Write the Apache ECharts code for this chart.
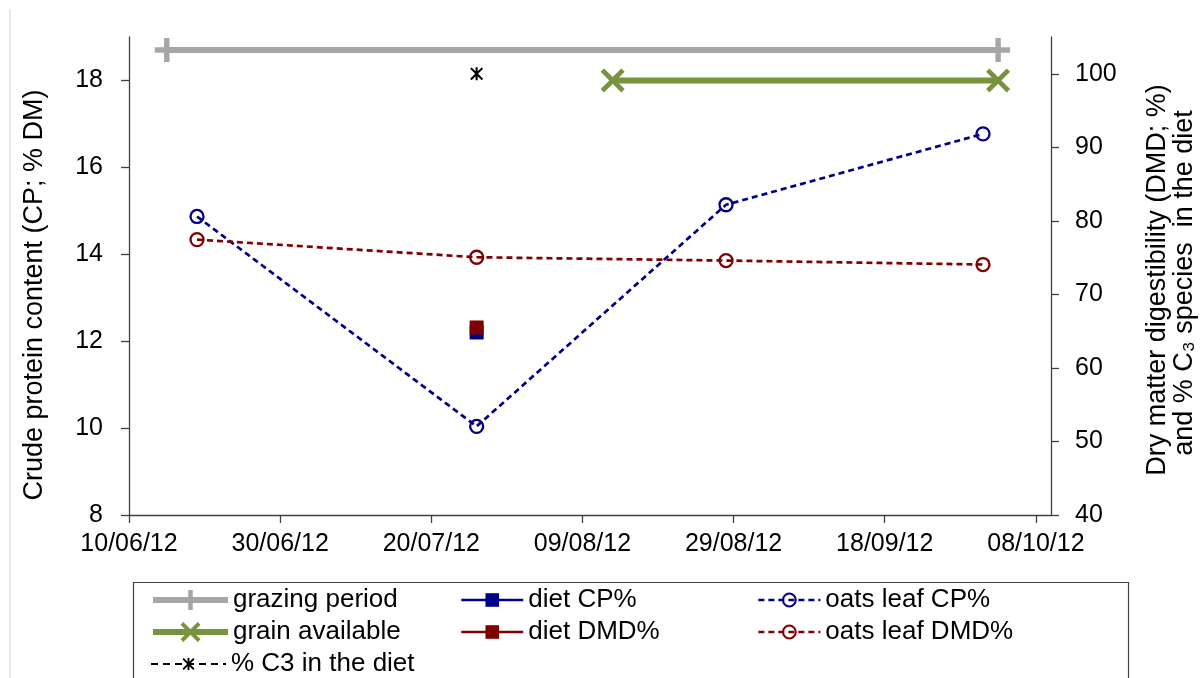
<!DOCTYPE html>
<html>
<head>
<meta charset="utf-8">
<script src="https://cdn.jsdelivr.net/npm/echarts@6/dist/echarts.min.js"></script>
<style>
html,body{margin:0;padding:0;background:#fff;}
#chart{width:1200px;height:678px;}
</style>
</head>
<body>
<div id="chart"></div>
<script>
// ---- data ----
const axisStartDate = '2012-06-10';
const axisEndDate = '2012-10-10';
const xTickLabels = ['10/06/12','30/06/12','20/07/12','09/08/12','29/08/12','18/09/12','08/10/12'];
const cpTicks = [8, 10, 12, 14, 16, 18];
const dmdTicks = [40, 50, 60, 70, 80, 90, 100];

const grazingDates = ['2012-06-15', '2012-10-03'];
const grazingLevel = [18.7, 18.7];
const grainDates = ['2012-08-13', '2012-10-03'];
const grainLevel = [18.0, 18.0];

const dietDates = ['2012-07-26'];
const dietCP = [12.2];
const dietDMD = [65.5];
const c3Diet = [100];

const oatsDates = ['2012-06-19', '2012-07-26', '2012-08-28', '2012-10-01'];
const oatsCP = [14.87, 10.04, 15.14, 16.77];
const oatsDMD = [77.45, 75.05, 74.6, 74.06];

// ---- helpers ----
const DAY = 86400000;
const t0 = Date.parse(axisStartDate);
const dayOf = s => Math.round((Date.parse(s) - t0) / DAY);
const pairs = (dates, vals) => dates.map((d, i) => [dayOf(d), vals[i]]);
const fmtDay = v => {
  const d = new Date(t0 + v * DAY);
  const p = n => String(n).padStart(2, '0');
  return p(d.getUTCDate()) + '/' + p(d.getUTCMonth() + 1) + '/' + String(d.getUTCFullYear()).slice(2);
};
const xTickDays = xTickLabels.map((_, i) => i * 20);

const FONT = '"Liberation Sans", Arial, sans-serif';
const AX = '#404040';
const BLUE = '#00008b';
const RED = '#7f0000';
const GREY = '#a6a6a6';
const GREEN = '#77933c';

const plusPath = 'path://M-2.5,-11 L2.5,-11 L2.5,-2.5 L11,-2.5 L11,2.5 L2.5,2.5 L2.5,11 L-2.5,11 L-2.5,2.5 L-11,2.5 L-11,-2.5 L-2.5,-2.5 Z';
const xPath = 'path://M9.19,-12.73 L12.73,-9.19 L3.54,0 L12.73,9.19 L9.19,12.73 L0,3.54 L-9.19,12.73 L-12.73,9.19 L-3.54,0 L-12.73,-9.19 L-9.19,-12.73 L0,-3.54 Z';
const starPath = 'path://M9.9,-12.73 L12.73,-9.9 L2.83,0 L12.73,9.9 L9.9,12.73 L0,2.83 L-9.9,12.73 L-12.73,9.9 L-2.83,0 L-12.73,-9.9 L-9.9,-12.73 L0,-2.83 Z M-2,-13 L2,-13 L2,13 L-2,13 Z';

const chart = echarts.init(document.getElementById('chart'), null, {renderer: 'canvas'});

const LEG_FS = 26;
const legendText = {fontFamily: FONT, fontSize: LEG_FS, color: '#000'};
// one legend entry per component: [name, left, rowCenterY, itemWidth, itemHeight]
const legendLayout = [
  ['grazing period', 150, 600, 75, 25],
  ['grain available', 150, 632, 75, 25],
  ['% C3 in the diet', 150, 664, 75, 15],
  ['diet CP%', 460, 600, 62, 17],
  ['diet DMD%', 460, 632, 62, 17],
  ['oats leaf CP%', 757, 600, 62, 16],
  ['oats leaf DMD%', 757, 632, 62, 16]
];
const legends = legendLayout.map(([name, left, cy, iw, ih]) => ({
  left: left, top: cy - Math.max(ih, LEG_FS) / 2, padding: 0, orient: 'vertical',
  itemWidth: iw, itemHeight: ih, itemGap: 0,
  lineStyle: {width: 'inherit'},
  textStyle: legendText, data: [name], selectedMode: false
}));

const option = {
  animation: false,
  backgroundColor: '#fff',
  textStyle: {fontFamily: FONT},
  grid: {left: 129, right: 149, top: 37, bottom: 163, containLabel: false},
  xAxis: {
    type: 'value',
    min: 0,
    max: dayOf(axisEndDate),
    interval: 20,
    axisLine: {show: true, lineStyle: {color: AX, width: 1.3}},
    axisTick: {show: true, inside: false, length: 8, lineStyle: {color: AX, width: 1.3}, customValues: xTickDays},
    axisLabel: {show: true, margin: 17, fontSize: 25, color: '#000', fontFamily: FONT,
      customValues: xTickDays, formatter: v => fmtDay(v)},
    splitLine: {show: false}
  },
  yAxis: [
    {
      type: 'value', position: 'left', min: 8, max: 19, interval: 2,
      axisLine: {show: true, lineStyle: {color: AX, width: 1.3}},
      axisTick: {show: true, length: 8, lineStyle: {color: AX, width: 1.3}, customValues: cpTicks},
      axisLabel: {margin: 26, fontSize: 25, color: '#000', fontFamily: FONT, customValues: cpTicks},
      splitLine: {show: false}
    },
    {
      type: 'value', position: 'right', min: 40, max: 105, interval: 10,
      axisLine: {show: true, lineStyle: {color: AX, width: 1.3}},
      axisTick: {show: true, length: 8, lineStyle: {color: AX, width: 1.3}, customValues: dmdTicks},
      axisLabel: {margin: 24, fontSize: 25, color: '#000', fontFamily: FONT, customValues: dmdTicks},
      splitLine: {show: false}
    }
  ],
  legend: legends,
  graphic: [
    {type: 'line', shape: {x1: 10, y1: 9, x2: 10, y2: 678}, style: {stroke: '#d0d0d0', lineWidth: 1}, silent: true},
    {type: 'rect', shape: {x: 133.5, y: 582.5, width: 995, height: 120}, style: {fill: 'none', stroke: '#404040', lineWidth: 1.2}, silent: true},
    {type: 'text', x: 35, y: 295, rotation: Math.PI / 2,
      style: {text: 'Crude protein content (CP; % DM)', font: '27px ' + FONT, fill: '#000', textAlign: 'center', textVerticalAlign: 'middle'}},
    {type: 'text', x: 1158, y: 280, rotation: Math.PI / 2,
      style: {text: 'Dry matter digestibility (DMD; %)', font: '27px ' + FONT, fill: '#000', textAlign: 'center', textVerticalAlign: 'middle'}},
    {type: 'text', x: 1185, y: 283, rotation: Math.PI / 2,
      style: {text: 'and % C\u2083 species  in the diet', font: '27px ' + FONT, fill: '#000', textAlign: 'center', textVerticalAlign: 'middle'}}
  ],
  series: [
    {
      name: 'grazing period', type: 'line', yAxisIndex: 0,
      data: pairs(grazingDates, grazingLevel),
      symbol: plusPath, symbolSize: [24, 24],
      lineStyle: {color: GREY, width: 6}, itemStyle: {color: GREY}, z: 3
    },
    {
      name: 'grain available', type: 'line', yAxisIndex: 0,
      data: pairs(grainDates, grainLevel),
      symbol: xPath, symbolSize: [24, 24],
      lineStyle: {color: GREEN, width: 6}, itemStyle: {color: GREEN}, z: 3
    },
    {
      name: '% C3 in the diet', type: 'line', yAxisIndex: 1,
      data: pairs(dietDates, c3Diet),
      symbol: starPath, symbolSize: [13, 13],
      lineStyle: {color: '#000', width: 2, type: [7, 5]}, itemStyle: {color: '#000'}, z: 3
    },
    {
      name: 'diet CP%', type: 'line', yAxisIndex: 0,
      data: pairs(dietDates, dietCP),
      symbol: 'rect', symbolSize: 14,
      lineStyle: {color: BLUE, width: 2.5}, itemStyle: {color: BLUE}, z: 4
    },
    {
      name: 'diet DMD%', type: 'line', yAxisIndex: 1,
      data: pairs(dietDates, dietDMD),
      symbol: 'rect', symbolSize: 14,
      lineStyle: {color: RED, width: 2.5}, itemStyle: {color: RED}, z: 5
    },
    {
      name: 'oats leaf CP%', type: 'line', yAxisIndex: 0,
      data: pairs(oatsDates, oatsCP),
      symbol: 'circle', symbolSize: 13,
      lineStyle: {color: BLUE, width: 2.7, type: [6, 4]},
      itemStyle: {color: 'rgba(255,255,255,0)', borderColor: BLUE, borderWidth: 2.3}, z: 3
    },
    {
      name: 'oats leaf DMD%', type: 'line', yAxisIndex: 1,
      data: pairs(oatsDates, oatsDMD),
      symbol: 'circle', symbolSize: 13,
      lineStyle: {color: RED, width: 2.7, type: [6, 4]},
      itemStyle: {color: 'rgba(255,255,255,0)', borderColor: RED, borderWidth: 2.3}, z: 3
    }
  ]
};
chart.setOption(option);
</script>
</body>
</html>
